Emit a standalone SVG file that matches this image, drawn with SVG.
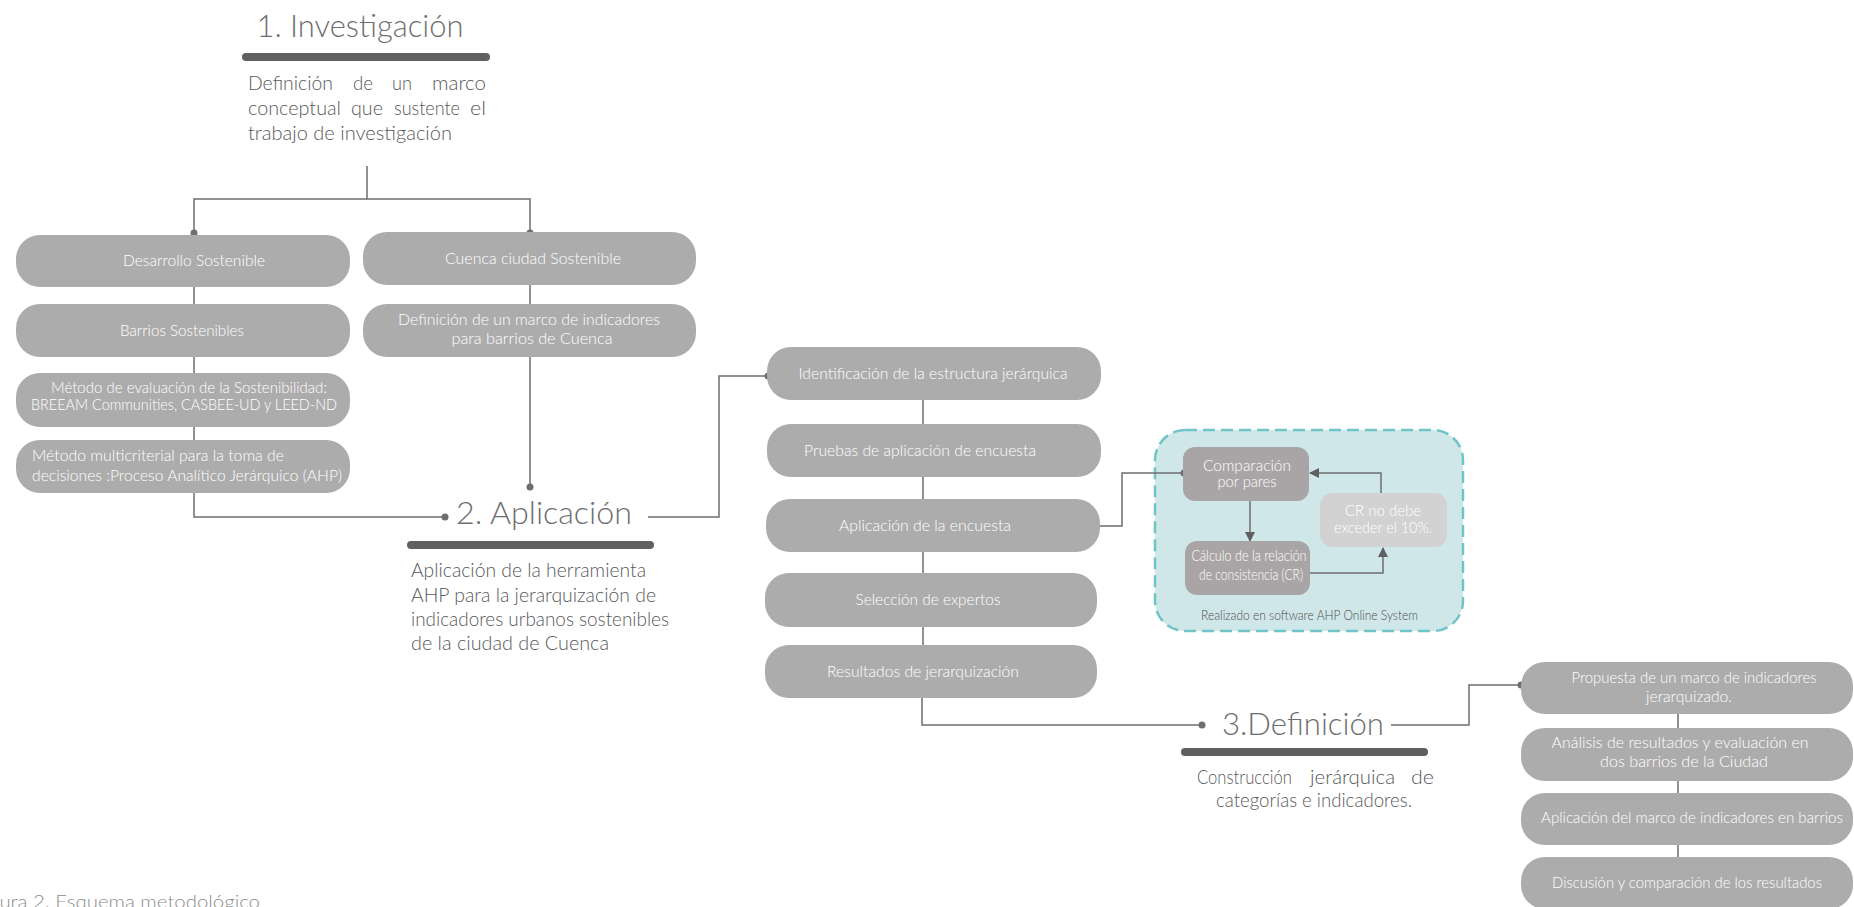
<svg xmlns="http://www.w3.org/2000/svg" width="1854" height="907" viewBox="0 0 1854 907">
<style>
.box{fill:#adacac}
.sbox{fill:#a9a5a6}
.lbox{fill:#d2d2d2}
text{font-family:Lato,"Open Sans","Liberation Sans",sans-serif;font-weight:300}
.bt{font-size:15px;fill:#ffffff;text-anchor:middle}
.btl{font-size:15px;fill:#ffffff}
.title{font-size:31px;fill:#6d6e71;text-anchor:middle}
.para{font-size:20px;fill:#58595b}
.ln{stroke:#6d6e71;stroke-width:1.5;fill:none}
.dot{fill:#6d6e71}
.bar{fill:#5f6062}
.cap{font-size:17px;fill:#8c8c8c}
</style>
<defs>
<marker id="ah" viewBox="0 0 10 10" refX="9" refY="5" markerWidth="10" markerHeight="10" markerUnits="userSpaceOnUse" orient="auto">
<path d="M0,0 L10,5 L0,10 z" fill="#5f6062"/>
</marker>
</defs>
<rect width="1854" height="907" fill="#ffffff"/>

<!-- AHP software container (drawn beneath connectors) -->
<g id="n-ahp-system">
<rect x="1155" y="430" width="308" height="201" rx="30" fill="#cfe7e8" stroke="#6fc4c8" stroke-width="2.5" stroke-dasharray="12 6"/>
<text x="1309.5" y="620" font-size="14" fill="#4d4d4d" text-anchor="middle" textLength="217" lengthAdjust="spacingAndGlyphs">Realizado en software AHP Online System</text>
</g>

<!-- Stage headers -->
<g id="stage1">
<text class="title" x="360" y="37" textLength="207" lengthAdjust="spacingAndGlyphs">1. Investigación</text>
<rect class="bar" x="242" y="53" width="248" height="8" rx="4"/>
<text class="para" x="248" y="90" textLength="85" lengthAdjust="spacingAndGlyphs">Definición</text>
<text class="para" x="353" y="90" textLength="20" lengthAdjust="spacingAndGlyphs">de</text>
<text class="para" x="392" y="90" textLength="20" lengthAdjust="spacingAndGlyphs">un</text>
<text class="para" x="432" y="90" textLength="54" lengthAdjust="spacingAndGlyphs">marco</text>
<text class="para" x="248" y="115" textLength="93" lengthAdjust="spacingAndGlyphs">conceptual</text>
<text class="para" x="351" y="115" textLength="32" lengthAdjust="spacingAndGlyphs">que</text>
<text class="para" x="394" y="115" textLength="66" lengthAdjust="spacingAndGlyphs">sustente</text>
<text class="para" x="470" y="115" textLength="16" lengthAdjust="spacingAndGlyphs">el</text>
<text class="para" x="248" y="140" textLength="204" lengthAdjust="spacingAndGlyphs">trabajo de investigación</text>
</g>

<g id="stage2">
<text class="title" x="544" y="524" textLength="176" lengthAdjust="spacingAndGlyphs">2. Aplicación</text>
<rect class="bar" x="407" y="541" width="247" height="8" rx="4"/>
<text class="para" x="411" y="577" textLength="235" lengthAdjust="spacingAndGlyphs">Aplicación de la herramienta</text>
<text class="para" x="411" y="602" textLength="245" lengthAdjust="spacingAndGlyphs">AHP para la jerarquización de</text>
<text class="para" x="411" y="626" textLength="258" lengthAdjust="spacingAndGlyphs">indicadores urbanos sostenibles</text>
<text class="para" x="411" y="650" textLength="198" lengthAdjust="spacingAndGlyphs">de la ciudad de Cuenca</text>
</g>

<g id="stage3">
<text class="title" x="1303" y="735" textLength="162" lengthAdjust="spacingAndGlyphs">3.Definición</text>
<rect class="bar" x="1181" y="748" width="247" height="8" rx="4"/>
<text class="para" x="1197" y="784" textLength="95" lengthAdjust="spacingAndGlyphs">Construcción</text>
<text class="para" x="1310" y="784" textLength="85" lengthAdjust="spacingAndGlyphs">jerárquica</text>
<text class="para" x="1411" y="784" textLength="23" lengthAdjust="spacingAndGlyphs">de</text>
<text class="para" x="1314" y="807" text-anchor="middle" textLength="196" lengthAdjust="spacingAndGlyphs">categorías e indicadores.</text>
</g>

<!-- Connectors -->
<g id="connectors">
<path class="ln" d="M367,166 V199 M194,233 V199 H530 V233"/>
<path class="ln" d="M194,287 V304 M194,357 V373 M194,427 V440 M194,493 V517 H445"/>
<path class="ln" d="M530,285 V304 M530,357 V487"/>
<path class="ln" d="M648,517 H719 V376 H768"/>
<path class="ln" d="M923,400 V424 M923,477 V499 M923,552 V573 M923,627 V645"/>
<path class="ln" d="M922,698 V725 H1202"/>
<path class="ln" d="M1391,725 H1469 V685 H1521"/>
<path class="ln" d="M1678,714 V728 M1678,781 V793 M1678,845 V857"/>
<path class="ln" d="M1097,526 H1122 V473 H1184"/>
<path class="ln" d="M1250,501 V541" marker-end="url(#ah)"/>
<path class="ln" d="M1310,573 H1383 V548" marker-end="url(#ah)"/>
<path class="ln" d="M1381,493 V473 H1310" marker-end="url(#ah)"/>
<circle class="dot" cx="194" cy="233" r="3.5"/>
<circle class="dot" cx="530" cy="233" r="3.5"/>
<circle class="dot" cx="445" cy="517" r="3.5"/>
<circle class="dot" cx="530" cy="487" r="3.5"/>
<circle class="dot" cx="768" cy="376" r="3.5"/>
<circle class="dot" cx="1184" cy="473" r="3.5"/>
<circle class="dot" cx="1202" cy="725" r="3.5"/>
<circle class="dot" cx="1521" cy="685" r="3.5"/>
</g>

<!-- Left column -->
<g id="n-desarrollo">
<rect class="box" x="16" y="235" width="334" height="52" rx="24"/>
<text class="bt" x="194" y="266" textLength="142" lengthAdjust="spacingAndGlyphs">Desarrollo Sostenible</text>
</g>
<g id="n-barrios">
<rect class="box" x="16" y="304" width="334" height="53" rx="24"/>
<text class="bt" x="182" y="336" textLength="124" lengthAdjust="spacingAndGlyphs">Barrios Sostenibles</text>
</g>
<g id="n-metodo-eval">
<rect class="box" x="16" y="373" width="334" height="54" rx="24"/>
<text class="bt" x="189" y="393" textLength="276" lengthAdjust="spacingAndGlyphs">Método de evaluación de la Sostenibilidad:</text>
<text class="bt" x="184" y="410" textLength="306" lengthAdjust="spacingAndGlyphs">BREEAM Communities, CASBEE-UD y LEED-ND</text>
</g>
<g id="n-metodo-multi">
<rect class="box" x="16" y="440" width="334" height="53" rx="24"/>
<text class="btl" x="32" y="461" textLength="252" lengthAdjust="spacingAndGlyphs">Método multicriterial para la toma de</text>
<text class="btl" x="32" y="481" textLength="310" lengthAdjust="spacingAndGlyphs">decisiones :Proceso Analítico Jerárquico (AHP)</text>
</g>

<!-- Right top column -->
<g id="n-cuenca">
<rect class="box" x="363" y="232" width="333" height="53" rx="24"/>
<text class="bt" x="533" y="264" textLength="176" lengthAdjust="spacingAndGlyphs">Cuenca ciudad Sostenible</text>
</g>
<g id="n-definicion-marco">
<rect class="box" x="363" y="304" width="333" height="53" rx="24"/>
<text class="bt" x="529" y="325" textLength="262" lengthAdjust="spacingAndGlyphs">Definición de un marco de indicadores</text>
<text class="bt" x="532" y="344" textLength="161" lengthAdjust="spacingAndGlyphs">para barrios de Cuenca</text>
</g>

<!-- Middle column -->
<g id="n-identificacion">
<rect class="box" x="767" y="347" width="334" height="53" rx="24"/>
<text class="bt" x="933" y="379" textLength="269" lengthAdjust="spacingAndGlyphs">Identificación de la estructura jerárquica</text>
</g>
<g id="n-pruebas">
<rect class="box" x="767" y="424" width="334" height="53" rx="24"/>
<text class="bt" x="920" y="456" textLength="232" lengthAdjust="spacingAndGlyphs">Pruebas de aplicación de encuesta</text>
</g>
<g id="n-aplicacion-encuesta">
<rect class="box" x="766" y="499" width="334" height="53" rx="24"/>
<text class="bt" x="925" y="531" textLength="172" lengthAdjust="spacingAndGlyphs">Aplicación de la encuesta</text>
</g>
<g id="n-seleccion">
<rect class="box" x="765" y="573" width="332" height="54" rx="24"/>
<text class="bt" x="928" y="605" textLength="145" lengthAdjust="spacingAndGlyphs">Selección de expertos</text>
</g>
<g id="n-resultados">
<rect class="box" x="765" y="645" width="332" height="53" rx="24"/>
<text class="bt" x="923" y="677" textLength="192" lengthAdjust="spacingAndGlyphs">Resultados de jerarquización</text>
</g>

<!-- AHP inner nodes -->
<g id="n-comparacion">
<rect class="sbox" x="1183" y="447" width="126" height="54" rx="12"/>
<text class="bt" x="1247" y="471" font-size="13" textLength="88" lengthAdjust="spacingAndGlyphs">Comparación</text>
<text class="bt" x="1247" y="487" font-size="13" textLength="59" lengthAdjust="spacingAndGlyphs">por pares</text>
</g>
<g id="n-calculo">
<rect class="sbox" x="1185" y="541" width="125" height="54" rx="12"/>
<text class="bt" x="1249" y="561" font-size="14" textLength="115" lengthAdjust="spacingAndGlyphs">Cálculo de la relación</text>
<text class="bt" x="1251" y="580" font-size="14" textLength="104" lengthAdjust="spacingAndGlyphs">de consistencia (CR)</text>
</g>
<g id="n-cr">
<rect class="lbox" x="1320" y="493" width="127" height="54" rx="12"/>
<text class="bt" x="1383" y="516" textLength="76" lengthAdjust="spacingAndGlyphs">CR no debe</text>
<text class="bt" x="1383" y="533" textLength="98" lengthAdjust="spacingAndGlyphs">exceder el 10%.</text>
</g>

<!-- Right column -->
<g id="n-propuesta">
<rect class="box" x="1521" y="662" width="332" height="52" rx="24"/>
<text class="bt" x="1694" y="683" textLength="245" lengthAdjust="spacingAndGlyphs">Propuesta de un marco de indicadores</text>
<text class="bt" x="1689" y="702" textLength="86" lengthAdjust="spacingAndGlyphs">jerarquizado.</text>
</g>
<g id="n-analisis">
<rect class="box" x="1521" y="728" width="332" height="53" rx="24"/>
<text class="bt" x="1680" y="748" textLength="257" lengthAdjust="spacingAndGlyphs">Análisis de resultados y evaluación en</text>
<text class="bt" x="1684" y="767" textLength="168" lengthAdjust="spacingAndGlyphs">dos barrios de la Ciudad</text>
</g>
<g id="n-aplicacion-marco">
<rect class="box" x="1521" y="793" width="332" height="52" rx="24"/>
<text class="bt" x="1692" y="823" textLength="302" lengthAdjust="spacingAndGlyphs">Aplicación del marco de indicadores en barrios</text>
</g>
<g id="n-discusion">
<rect class="box" x="1521" y="857" width="332" height="52" rx="24"/>
<text class="bt" x="1687" y="888" textLength="270" lengthAdjust="spacingAndGlyphs">Discusión y comparación de los resultados</text>
</g>

<text class="cap" x="-27" y="908" textLength="287" lengthAdjust="spacingAndGlyphs">Figura 2. Esquema metodológico</text>
</svg>
